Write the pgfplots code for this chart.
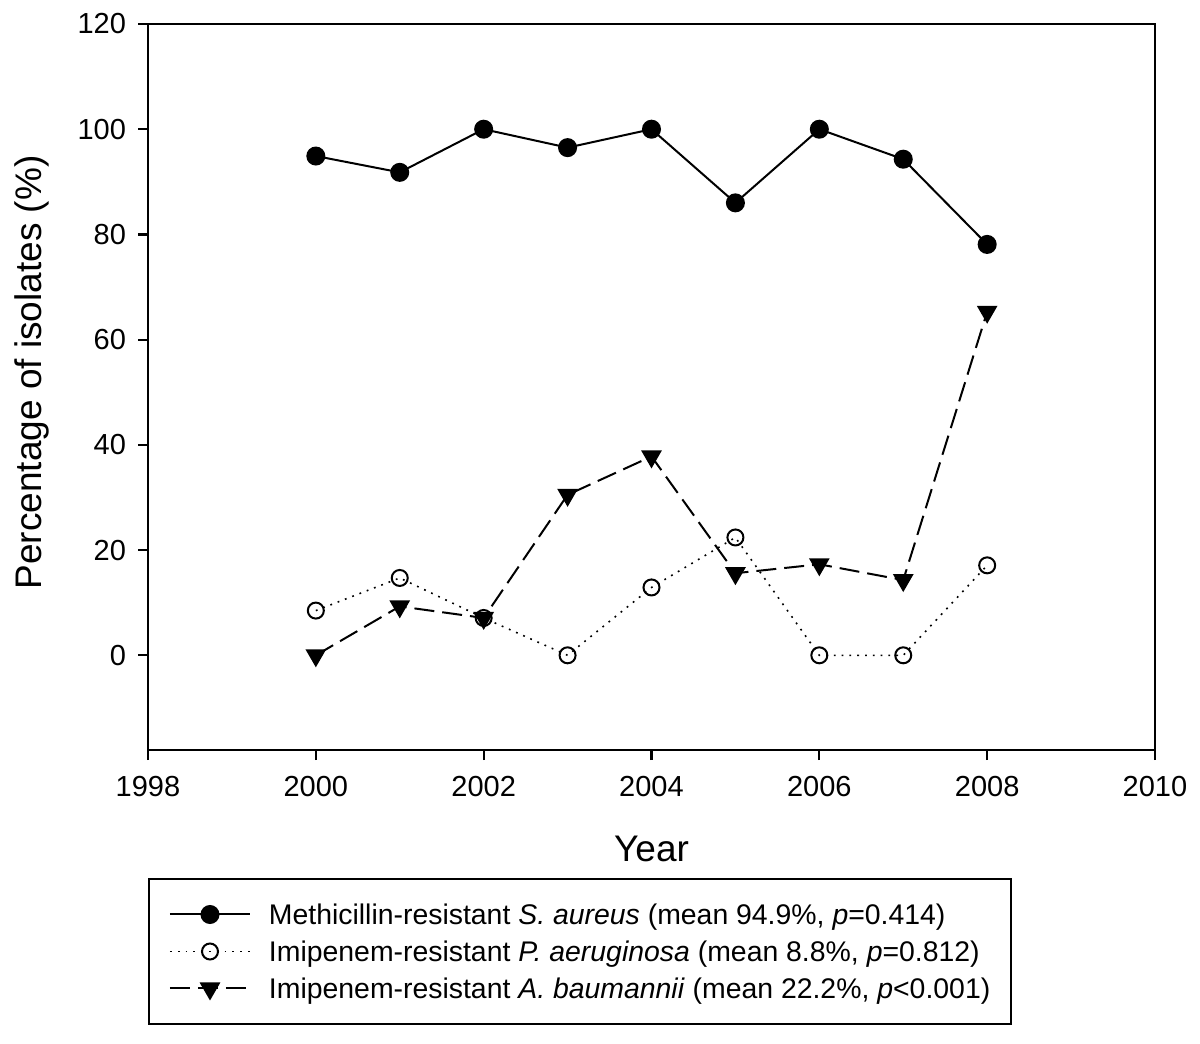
\documentclass[border=0pt]{standalone}
\usepackage{fontspec}
\setmainfont{Liberation Sans}
\usepackage{pgfplots}
\pgfplotsset{compat=1.18}
\begin{document}
\begin{tikzpicture}
\begin{axis}[
  scale only axis,
  width=503.5pt, height=363pt,
  xmin=1998, xmax=2010, ymin=-18, ymax=120,
  xtick={1998,2000,...,2010},
  ytick={0,20,...,120},
  tick align=outside, tick pos=left,
  major tick length=5pt,
  axis line style={line width=1.1pt},
  every tick/.style={line width=1.1pt, black},
  /pgf/number format/assume math mode=true,
  /pgf/number format/1000 sep={},
  tick label style={font=\fontsize{14.5}{17}\selectfont},
  yticklabel style={xshift=-2.5pt},
  xticklabel style={yshift=-4.5pt},
  xlabel={Year}, ylabel={Percentage of isolates (\%)},
  label style={font=\fontsize{18.5}{22}\selectfont},
  xlabel style={at={(axis description cs:0.5,-0.1364)}, anchor=center},
  ylabel style={at={(axis description cs:-0.1152,0.52)}, anchor=center},
  legend style={at={(axis description cs:0,-0.1763)}, anchor=north west,
    draw=black, line width=1pt, inner xsep=10pt, inner ysep=8.5pt,
    font=\fontsize{14.2}{16}\selectfont,
    nodes={inner sep=0pt, text height=14.25pt, text depth=4.25pt},
    row sep=0pt, column sep=0pt},
  legend cell align=left,
  legend image code/.code={%
    \draw[mark repeat=2,mark phase=2] plot coordinates {(0pt,0pt) (20pt,0pt) (40pt,0pt)};},
]
\addplot[black, line width=1pt, mark=*, mark size=4.25pt, mark options={solid}] coordinates {
(2000,94.9) (2001,91.8) (2002,100) (2003,96.5) (2004,100) (2005,86.0) (2006,100) (2007,94.3) (2008,78.1)};
\addlegendentry{\hspace*{9pt}\makebox[361pt][l]{Methicillin-resistant \textit{S. aureus} (mean 94.9\%, \textit{p}=0.414)}}
\addplot[black, line width=0.8pt, dash pattern=on 0.9pt off 3pt, mark=o, mark size=4pt, mark options={solid, fill=white, line width=1pt}] coordinates {
(2000,8.5) (2001,14.7) (2002,7.1) (2003,0) (2004,12.9) (2005,22.4) (2006,0) (2007,0) (2008,17.1)};
\addlegendentry{\hspace*{9pt}\makebox[361pt][l]{Imipenem-resistant \textit{P. aeruginosa} (mean 8.8\%, \textit{p}=0.812)}}
\addplot[black, line width=1pt, dash pattern=on 10pt off 4pt, mark=triangle*, mark size=5pt, mark options={solid, rotate=180}] coordinates {
(2000,0) (2001,9.3) (2002,7.1) (2003,30.5) (2004,37.8) (2005,15.6) (2006,17.3) (2007,14.3) (2008,65.3)};
\addlegendentry{\hspace*{9pt}\makebox[361pt][l]{Imipenem-resistant \textit{A. baumannii} (mean 22.2\%, \textit{p}<0.001)}}
\end{axis}
\useasboundingbox (-74pt,-147pt) rectangle (526pt,375pt);
\end{tikzpicture}
\end{document}
